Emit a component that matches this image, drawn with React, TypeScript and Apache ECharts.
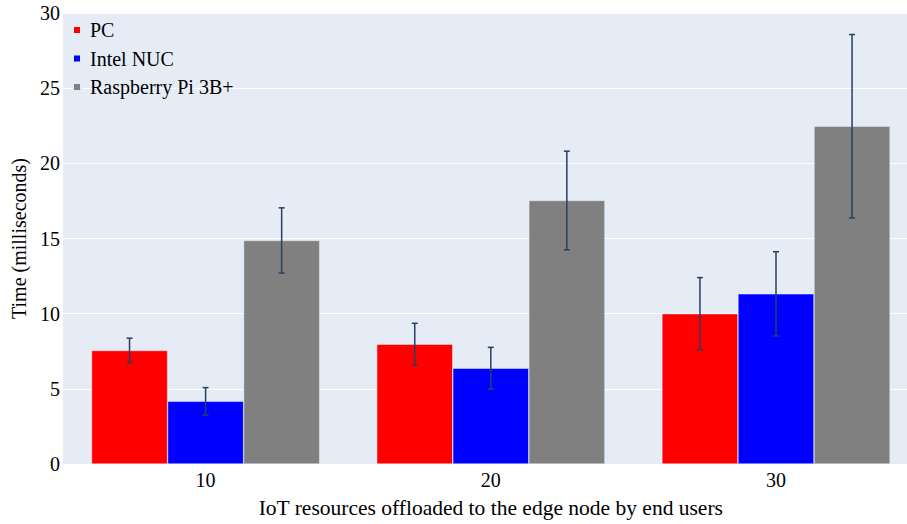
import React, { useEffect, useRef } from "react";
import * as echarts from "echarts";

const categories = ["10", "20", "30"];
const seriesNames = ["PC", "Intel NUC", "Raspberry Pi 3B+"];
const seriesColors = ["#ff0000", "#0000ff", "#808080"];
const pcValues = [7.55, 7.97, 10.0];
const pcErrors = [0.82, 1.39, 2.4];
const nucValues = [4.17, 6.37, 11.32];
const nucErrors = [0.91, 1.39, 2.8];
const rpiValues = [14.87, 17.53, 22.47];
const rpiErrors = [2.17, 3.28, 6.1];
const yTicks = [0, 5, 10, 15, 20, 25, 30];

const FONT = "'Liberation Serif', 'Times New Roman', serif";

export default function App() {
  const ref = useRef<HTMLDivElement>(null);
  useEffect(() => {
    if (!ref.current) return;
    const chart = echarts.init(ref.current, null, { renderer: "svg" });
    const values = [pcValues, nucValues, rpiValues];
    const errors = [pcErrors, nucErrors, rpiErrors];

    const barSeries = seriesNames.map((name, i) => ({
      name,
      type: "bar",
      data: values[i],
      barGap: "0%",
      barCategoryGap: "20%",
      itemStyle: { color: seriesColors[i], borderColor: "#E5ECF6", borderWidth: 0.5 },
      z: 2,
    }));

    const errSeries = seriesNames.map((name, i) => ({
      name: name + " error",
      type: "custom",
      z: 5,
      encode: { x: 0, y: 1 },
      data: categories.map((_, k) => [k, values[i][k], errors[i][k]]),
      renderItem: (params: any, api: any) => {
        const idx = api.value(0);
        const v = api.value(1);
        const e = api.value(2);
        const band = api.size([1, 0])[0];
        const bw = (band * 0.8) / 3;
        const off = (i - 1) * bw;
        const top = api.coord([idx, v + e]);
        const bot = api.coord([idx, v - e]);
        const x = top[0] + off;
        const cap = 3;
        const style = { stroke: "#2a3f5f", lineWidth: 1.5, fill: "none" };
        return {
          type: "group",
          children: [
            { type: "line", shape: { x1: x, y1: top[1], x2: x, y2: bot[1] }, style },
            { type: "line", shape: { x1: x - cap, y1: top[1], x2: x + cap, y2: top[1] }, style },
            { type: "line", shape: { x1: x - cap, y1: bot[1], x2: x + cap, y2: bot[1] }, style },
          ],
        };
      },
    }));

    chart.setOption({
      animation: false,
      textStyle: { fontFamily: FONT },
      grid: {
        left: 63,
        top: 13,
        width: 855.6,
        height: 453,
        backgroundColor: "#E5ECF6",
        show: true,
        borderWidth: 0,
      },
      legend: {
        data: seriesNames,
        orient: "vertical",
        left: 72,
        top: 20,
        padding: 0,
        itemWidth: 8,
        itemHeight: 8,
        itemGap: 8.5,
        icon: "rect",
        textStyle: { fontFamily: FONT, fontSize: 20, color: "#000", padding: [0, 0, 0, 4] },
      },
      xAxis: {
        type: "category",
        data: categories,
        axisLine: { show: false },
        axisTick: { show: false },
        axisLabel: { fontFamily: FONT, fontSize: 20, color: "#000", margin: 6 },
        name: "IoT resources offloaded to the edge node by end users",
        nameLocation: "middle",
        nameGap: 33,
        nameTextStyle: { fontFamily: FONT, fontSize: 21.5, color: "#000" },
      },
      yAxis: {
        type: "value",
        min: yTicks[0],
        max: yTicks[yTicks.length - 1],
        interval: 5,
        axisLine: { show: false },
        axisTick: { show: false },
        splitLine: { lineStyle: { color: "#ffffff", width: 1 } },
        axisLabel: { fontFamily: FONT, fontSize: 20, color: "#000", margin: 3 },
        name: "Time (milliseconds)",
        nameLocation: "middle",
        nameGap: 31,
        nameTextStyle: { fontFamily: FONT, fontSize: 20, color: "#000" },
      },
      series: [...barSeries, ...errSeries],
    });
    return () => chart.dispose();
  }, []);

  return (
    <div style={{ position: "fixed", left: 0, top: 0, width: 907, height: 524, overflow: "hidden", background: "#fff" }}>
      <div ref={ref} style={{ width: 920, height: 524 }} />
    </div>
  );
}
